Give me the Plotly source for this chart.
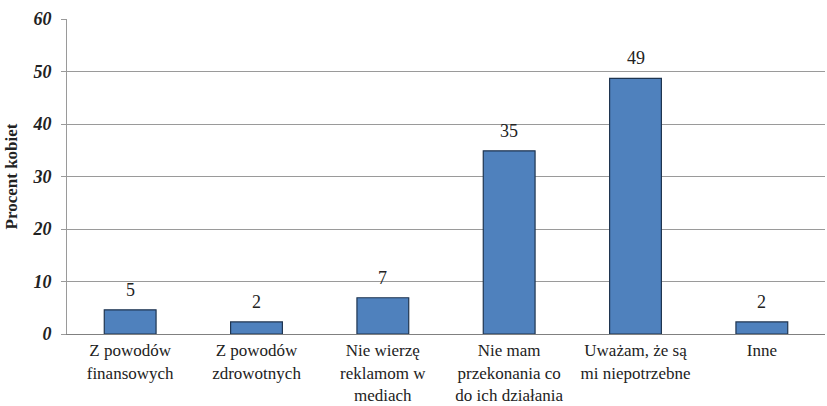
import plotly.graph_objects as go

categories = [
    "Z powodów<br>finansowych",
    "Z powodów<br>zdrowotnych",
    "Nie wierzę<br>reklamom w<br>mediach",
    "Nie mam<br>przekonania co<br>do ich działania",
    "Uważam, że są<br>mi niepotrzebne",
    "Inne",
]
values = [4.6, 2.3, 6.9, 34.9, 48.7, 2.3]
y_ticks = [0, 10, 20, 30, 40, 50, 60]

serif = "Liberation Serif, serif"
ink = "#222222"

fig = go.Figure(
    go.Bar(
        x=categories,
        y=values,
        marker=dict(color="#4F81BD", line=dict(color="#1F3550", width=1.2)),
        width=0.41,
        hoverinfo="skip",
    )
)

# value labels above each bar, rounded from the bar values
for c, v in zip(categories, values):
    fig.add_annotation(
        x=c, y=v, text=f"{v:.0f}", showarrow=False,
        yanchor="bottom", yshift=8,
        font=dict(family=serif, size=18, color=ink),
    )

fig.update_layout(
    width=827, height=406,
    margin=dict(l=67, r=2, t=19, b=72),
    paper_bgcolor="white", plot_bgcolor="white",
    showlegend=False,
    font=dict(family=serif, color=ink),
)
fig.update_xaxes(
    showline=True, linecolor="#808080", linewidth=1,
    ticks="", tickfont=dict(family=serif, size=17, color=ink),
    ticklabelstandoff=1,
    showgrid=False, automargin=False,
)
fig.update_yaxes(
    range=[0, 60], tickvals=y_ticks,
    ticktext=[f"<b><i>{t}</i></b>" for t in y_ticks],
    tickfont=dict(family=serif, size=18, color=ink),
    showgrid=True, gridcolor="#9A9A9A", gridwidth=1,
    showline=True, linecolor="#9A9A9A", linewidth=1,
    ticks="outside", ticklen=5, tickcolor="#9A9A9A",
    ticklabelstandoff=6,
    zeroline=False, automargin=False,
    title=dict(text="<b>Procent kobiet</b>", font=dict(family=serif, size=17, color=ink), standoff=10),
)

fig.write_html("out.html")
